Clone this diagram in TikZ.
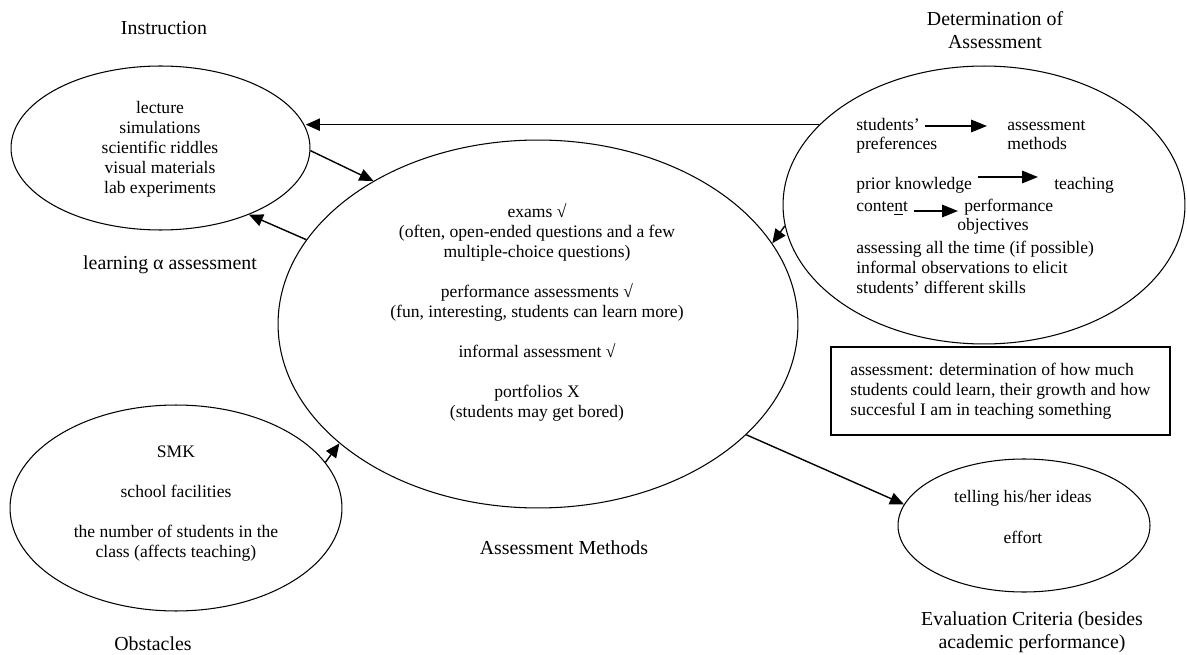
\documentclass[tikz,border=0pt]{standalone}
\usepackage{fontspec}
\setmainfont{Liberation Serif}
\usepackage{tikz}
\usetikzlibrary{positioning, arrows.meta, shapes.geometric, calc}
\tikzset{
    blob/.style = {ellipse, draw, line width=0.6pt, inner sep=0pt},
    txt/.style = {inner sep=0pt, align=center,
                  font=\fontsize{10}{11.4}\selectfont},
    ltxt/.style = {inner sep=0pt, anchor=west, text height=7pt, text depth=2pt,
                   font=\fontsize{10}{11.4}\selectfont},
    heading/.style = {inner sep=0pt, align=center,
                      font=\fontsize{11.3}{13}\selectfont},
    arrow/.style = {-{Triangle[length=8pt, width=7pt]}, line width=0.8pt},
    thickarrow/.style = {-{Triangle[length=9pt, width=7pt]}, line width=1.1pt},
    defbox/.style = {draw, line width=1.2pt, align=left, minimum width=6.78cm,
                     minimum height=1.76cm, font=\fontsize{10}{11.4}\selectfont},
}
\begin{document}
\begin{tikzpicture}[x=0.02cm, y=-0.02cm]
        \useasboundingbox (0,0) rectangle (1187,655);
        % ellipses
        \node[blob, minimum width=5.98cm, minimum height=3.28cm] (instr) at (160.5,148) {};
        \node[blob, minimum width=10.4cm, minimum height=7.36cm] (assess) at (538,324) {};
        \node[blob, minimum width=8.04cm, minimum height=5.56cm] (det) at (984,205) {};
        \node[blob, minimum width=6.64cm, minimum height=4.12cm] (obst) at (176,508) {};
        \node[blob, minimum width=5.04cm, minimum height=2.66cm] (eval) at (1024,525.5) {};
        % headings
        \node[heading] (instrhd) at (164,28) {Instruction};
        \node[heading] (learnhd) at (170,265) {learning α assessment};
        \node[heading] (dethd) at (995,30) {Determination of\\Assessment};
        \node[heading] (assesshd) at (564,548) {Assessment Methods};
        \node[heading] (obsthd) at (153,644) {Obstacles};
        \node[heading] (evalhd) at (1032,632) {Evaluation Criteria (besides\\academic performance)};
        % contents
        \node[txt] (instrtxt) at (160,149) {lecture\\simulations\\scientific riddles\\visual materials\\lab experiments};
        \node[txt] (assesstxt) at (537,312.5) {exams √\\(often, open-ended questions and a few\\multiple-choice questions)\\[11.4pt]
              performance assessments √\\(fun, interesting, students can learn more)\\[11.4pt]
              informal assessment √\\[11.4pt]portfolios X\\(students may get bored)};
        \node[txt] (obsttxt) at (176,503.5) {SMK\\[11.4pt]school facilities\\[11.4pt]the number of students in the\\class (affects teaching)};
        \node[txt] (evaltxt) at (1023,517) {telling his/her ideas\\[11.4pt]effort};
        \node[defbox] (defn) at (1000.5,391) {assessment: determination of how much\\students could learn, their growth and how\\succesful I am in teaching something};
        % determination contents
        \node[ltxt] (sp1) at (856,126) {students’};
        \node[ltxt] (sp2) at (856,145) {preferences};
        \node[ltxt] (am1) at (1007,126) {assessment};
        \node[ltxt] (am2) at (1007,145) {methods};
        \node[ltxt] (pk) at (856,185) {prior knowledge};
        \node[ltxt] (teach) at (1054,185) {teaching};
        \node[ltxt] (cont) at (856,207) {conte\underline{n}t};
        \node[ltxt] (perf) at (964,207) {performance};
        \node[ltxt] (obj) at (957,226) {objectives};
        \node[txt, anchor=west, align=left] (detrest) at (856,267) {assessing all the time (if possible)\\informal observations to elicit\\students’ different skills};
        \draw[thickarrow, shorten <=0.1cm, shorten >=0.4cm] (sp1.east) -- (am1.west);
        \draw[thickarrow, shorten <=0.12cm, shorten >=0.32cm] ([yshift=0.16cm]pk.east) -- ([yshift=0.16cm]teach.west);
        \draw[thickarrow, shorten <=0.12cm, shorten >=0.12cm] ([yshift=-0.08cm]cont.east) -- ([yshift=-0.08cm]perf.west);
        % connectors
        \draw[arrow] (instr.-1.5) -- (assess.139);
        \draw[arrow] (assess.160.5) -- (instr.-37.4);
        \draw[arrow] (det.154.3) -- (det.154.3 -| instr.8.5);
        \draw[arrow] (det.186.6) -- (assess.19.9);
        \draw[arrow] (obst.17.9) -- (assess.211.8);
        \draw[arrow] (assess.-28.4) -- (eval.170.8);
      \end{tikzpicture}
\end{document}
